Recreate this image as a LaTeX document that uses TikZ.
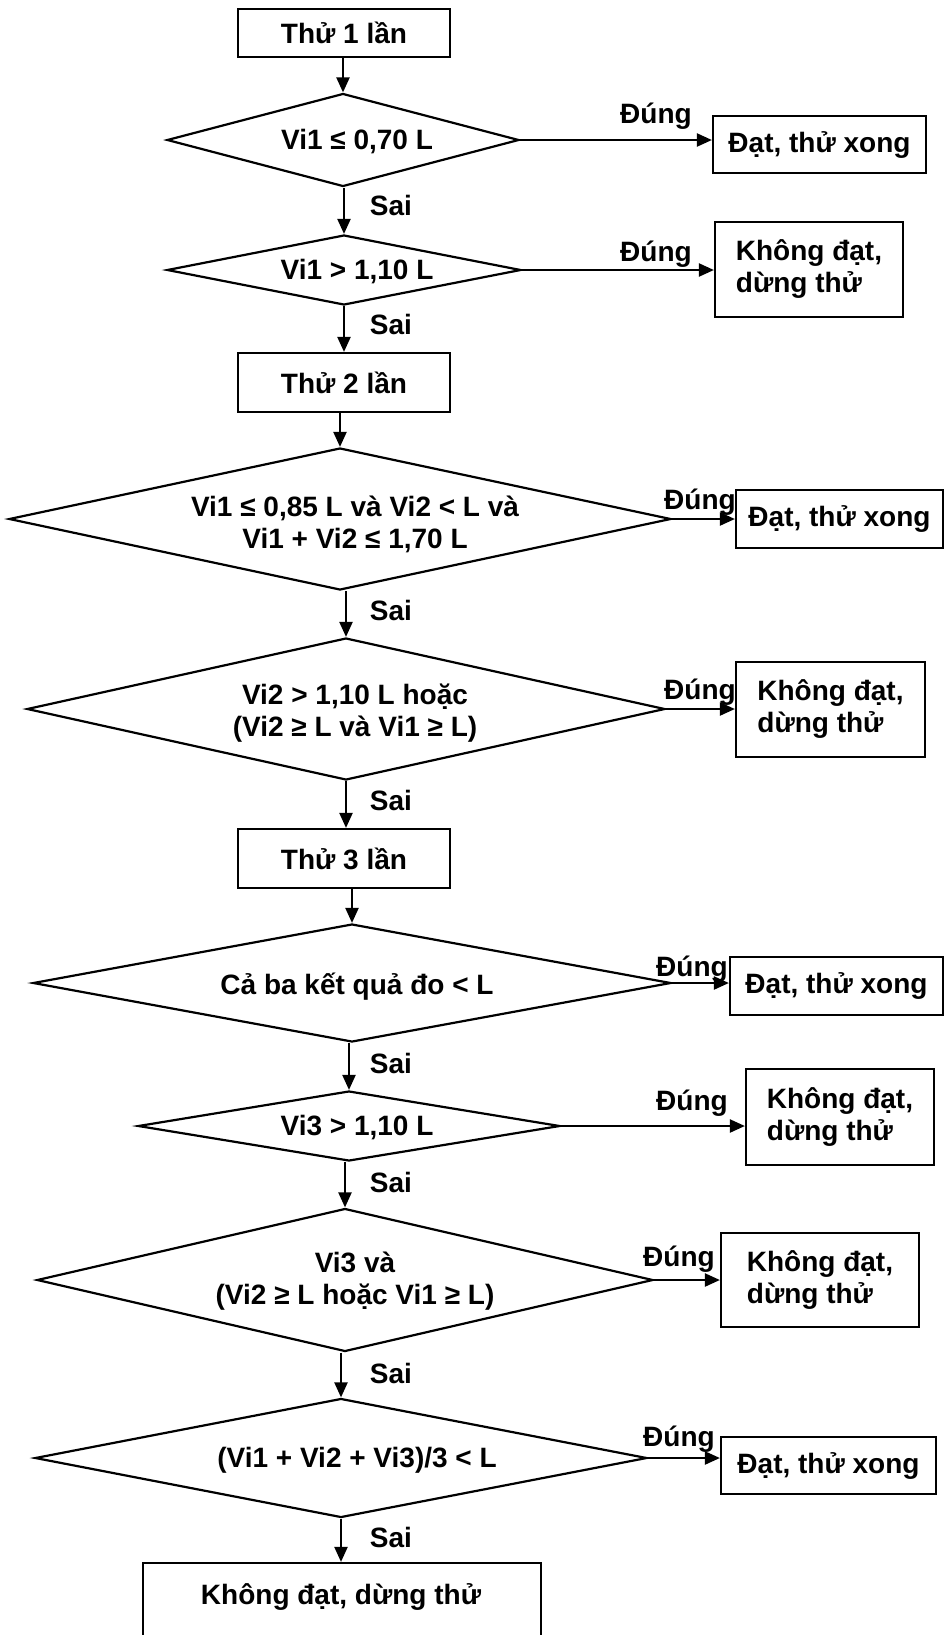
\documentclass[tikz,border=0pt]{standalone}
\usepackage{fontspec}
\setmainfont{Liberation Sans}
\usetikzlibrary{shapes.geometric,arrows.meta}
\begin{document}
\begin{tikzpicture}[x=0.5pt,y=-0.5pt,
  every node/.style={font=\bfseries\fontsize{14}{16}\selectfont},
  box/.style={draw,line width=1.1pt,rectangle,inner sep=0pt,align=left},
  dia/.style={draw,line width=1.1pt,diamond,inner sep=0pt},
  txt/.style={align=center,inner sep=0pt},
  lab/.style={inner sep=0pt},
  arr/.style={line width=1.1pt,-{Triangle[length=7.5pt,width=6.5pt]}}]
\useasboundingbox (0,0) rectangle (944,1635);
\clip (0,0) rectangle (944,1635);

% main column
\node[box,minimum width=106pt,minimum height=24pt] (b1) at (344,33) {Thử 1 lần};
\node[dia,minimum width=176pt,minimum height=46.5pt] (d1) at (343,140) {};
\node[txt] (d1t) at (357,142) {Vi1 ≤ 0,70 L};
\node[dia,minimum width=177pt,minimum height=35pt] (d2) at (344,270) {};
\node[txt] (d2t) at (357,272) {Vi1 > 1,10 L};
\node[box,minimum width=106pt,minimum height=29.5pt] (b2) at (344,382.5) {Thử 2 lần};
\node[dia,minimum width=331pt,minimum height=71pt] (d3) at (340,519) {};
\node[txt] (d3t) at (355,524) {Vi1 ≤ 0,85 L và Vi2 < L và\\Vi1 + Vi2 ≤ 1,70 L};
\node[dia,minimum width=319pt,minimum height=71pt] (d4) at (346,709) {};
\node[txt] (d4t) at (355,713) {Vi2 > 1,10 L hoặc\\(Vi2 ≥ L và Vi1 ≥ L)};
\node[box,minimum width=106pt,minimum height=29.5pt] (b3) at (344,858.5) {Thử 3 lần};
\node[dia,minimum width=319pt,minimum height=59pt] (d5) at (352,983) {};
\node[txt] (d5t) at (357,987) {Cả ba kết quả đo < L};
\node[dia,minimum width=211pt,minimum height=35pt] (d6) at (349,1126) {};
\node[txt] (d6t) at (357,1128) {Vi3 > 1,10 L};
\node[dia,minimum width=308pt,minimum height=71.5pt] (d7) at (345,1280) {};
\node[txt] (d7t) at (355,1281) {Vi3 và\\(Vi2 ≥ L hoặc Vi1 ≥ L)};
\node[dia,minimum width=306pt,minimum height=59.5pt] (d8) at (341,1458) {};
\node[txt] (d8t) at (357,1460) {(Vi1 + Vi2 + Vi3)/3 < L};
\node[box,minimum width=199pt,minimum height=48.5pt] (b4) at (342,1611.5) {};
\node[txt] (b4t) at (341,1597) {Không đạt, dừng thử};

% right column
\node[box,minimum width=106.5pt,minimum height=28.5pt] (r1) at (819.5,144.5) {Đạt, thử xong};
\node[box,minimum width=94pt,minimum height=47.5pt] (r2) at (809,269.5) {Không đạt,\\dừng thử};
\node[box,minimum width=103.5pt,minimum height=29pt] (r3) at (839.5,519) {Đạt, thử xong};
\node[box,minimum width=94.5pt,minimum height=47.5pt] (r4) at (830.5,709.5) {Không đạt,\\dừng thử};
\node[box,minimum width=106.5pt,minimum height=29pt] (r5) at (836.5,986) {Đạt, thử xong};
\node[box,minimum width=94pt,minimum height=48pt] (r6) at (840,1117) {Không đạt,\\dừng thử};
\node[box,minimum width=99pt,minimum height=47pt] (r7) at (820,1280) {Không đạt,\\dừng thử};
\node[box,minimum width=107.5pt,minimum height=28.5pt] (r8) at (828.5,1465.5) {Đạt, thử xong};

% labels
\node[lab] (t1) at (656,116) {Đúng};
\node[lab] (t2) at (656,254) {Đúng};
\node[lab] (t3) at (700,502) {Đúng};
\node[lab] (t4) at (700,692) {Đúng};
\node[lab] (t5) at (692,969) {Đúng};
\node[lab] (t6) at (692,1103) {Đúng};
\node[lab] (t7) at (679,1259) {Đúng};
\node[lab] (t8) at (679,1439) {Đúng};
\node[lab] (s1) at (391,205) {Sai};
\node[lab] (s2) at (391,324) {Sai};
\node[lab] (s3) at (391,610) {Sai};
\node[lab] (s4) at (391,800) {Sai};
\node[lab] (s5) at (391,1063) {Sai};
\node[lab] (s6) at (391,1182) {Sai};
\node[lab] (s7) at (391,1373) {Sai};
\node[lab] (s8) at (391,1537) {Sai};

% vertical connectors
\draw[arr] (b1.south -| d1.north) -- (d1.north);
\draw[arr] (d1.south -| d2.north) -- (d2.north);
\draw[arr] (d2.south) -- (d2.south |- b2.north);
\draw[arr] (b2.south -| d3.north) -- (d3.north);
\draw[arr] (d3.south -| d4.north) -- (d4.north);
\draw[arr] (d4.south) -- (d4.south |- b3.north);
\draw[arr] (b3.south -| d5.north) -- (d5.north);
\draw[arr] (d5.south -| d6.north) -- (d6.north);
\draw[arr] (d6.south -| d7.north) -- (d7.north);
\draw[arr] (d7.south -| d8.north) -- (d8.north);
\draw[arr] (d8.south) -- (d8.south |- b4.north);

% horizontal connectors
\draw[arr] (d1.east) -- (d1.east -| r1.west);
\draw[arr] (d2.east) -- (d2.east -| r2.west);
\draw[arr] (d3.east) -- (d3.east -| r3.west);
\draw[arr] (d4.east) -- (d4.east -| r4.west);
\draw[arr] (d5.east) -- (d5.east -| r5.west);
\draw[arr] (d6.east) -- (d6.east -| r6.west);
\draw[arr] (d7.east) -- (d7.east -| r7.west);
\draw[arr] (d8.east) -- (d8.east -| r8.west);
\end{tikzpicture}
\end{document}
